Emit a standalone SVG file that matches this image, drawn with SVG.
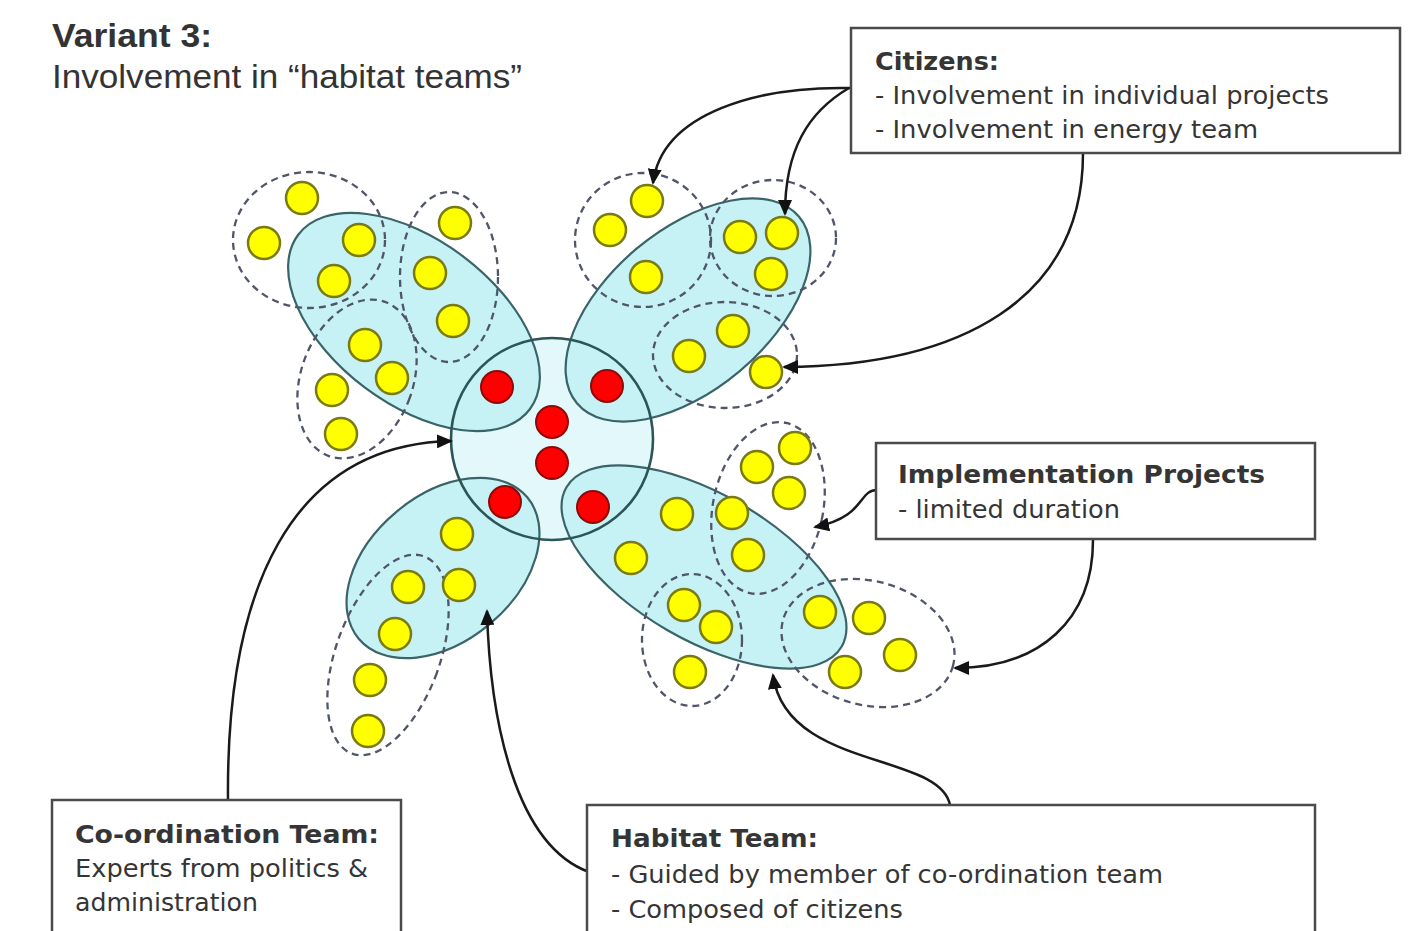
<svg xmlns="http://www.w3.org/2000/svg" width="1424" height="931" viewBox="0 0 1424 931">
<style>
.petal{fill:#c6f2f6;stroke:#3a6468;stroke-width:2.2}
.dash{fill:none;stroke:#50556a;stroke-width:2.3;stroke-dasharray:7 5}
.y{fill:#ffff00;stroke:#7a7a12;stroke-width:2.5}
.r{fill:#ff0000;stroke:#8c0a0a;stroke-width:2}
.box{fill:#ffffff;stroke:#4a4a4a;stroke-width:2.5}
.con{fill:none;stroke:#1a1a1a;stroke-width:2.5;marker-end:url(#ah)}
.t{font-family:"DejaVu Sans","Liberation Sans",sans-serif;font-size:25px;fill:#353535}
.b{font-weight:bold}
.title{font-family:"Liberation Sans",Arial,sans-serif;font-size:34px;fill:#333}
</style>
<defs>
<marker id="ah" markerWidth="16" markerHeight="14" refX="14" refY="7" orient="auto" markerUnits="userSpaceOnUse">
<path d="M0,0 L16,7 L0,14 z" fill="#111"/>
</marker>
</defs>
<rect width="1424" height="931" fill="#ffffff"/>

<g id="title">
<text class="title b" x="52" y="47" textLength="160" lengthAdjust="spacingAndGlyphs">Variant 3:</text>
<text class="title" x="52" y="88" textLength="470" lengthAdjust="spacingAndGlyphs">Involvement in “habitat teams”</text>
</g>

<g id="cluster">
<circle cx="552" cy="439" r="101" fill="#e2f8fa"/>
<g id="petals">
<ellipse class="petal" cx="414" cy="322" rx="145" ry="82" transform="rotate(37 414 322)"/>
<ellipse class="petal" cx="688" cy="310" rx="145" ry="80" transform="rotate(-40 688 310)"/>
<ellipse class="petal" cx="704" cy="567" rx="159" ry="73" transform="rotate(30 704 567)"/>
<ellipse class="petal" cx="443" cy="568" rx="110" ry="73" transform="rotate(-40 443 568)"/>
</g>
<circle id="core" cx="552" cy="439" r="101" fill="none" stroke="#2d5558" stroke-width="2.6"/>
<g id="groups">
<ellipse class="dash" cx="309" cy="240" rx="76" ry="68"/>
<ellipse class="dash" cx="449" cy="277" rx="49" ry="85"/>
<ellipse class="dash" cx="357" cy="379" rx="56" ry="82" transform="rotate(20 357 379)"/>
<ellipse class="dash" cx="643" cy="240" rx="68" ry="67"/>
<ellipse class="dash" cx="773" cy="238" rx="63" ry="58"/>
<ellipse class="dash" cx="725" cy="355" rx="72" ry="53"/>
<ellipse class="dash" cx="768" cy="508" rx="55" ry="87" transform="rotate(12 768 508)"/>
<ellipse class="dash" cx="692" cy="640" rx="50" ry="66"/>
<ellipse class="dash" cx="868" cy="643" rx="88" ry="62" transform="rotate(15 868 643)"/>
<ellipse class="dash" cx="388" cy="655" rx="52" ry="105" transform="rotate(20 388 655)"/>
</g>
<g id="red-members">
<circle class="r" cx="497" cy="387" r="16"/>
<circle class="r" cx="607" cy="386" r="16"/>
<circle class="r" cx="552" cy="422" r="16"/>
<circle class="r" cx="552" cy="463" r="16"/>
<circle class="r" cx="505" cy="502" r="16"/>
<circle class="r" cx="593" cy="507" r="16"/>
</g>
<g id="citizens">
<circle class="y" cx="302" cy="198" r="16"/>
<circle class="y" cx="264" cy="243" r="16"/>
<circle class="y" cx="359" cy="240" r="16"/>
<circle class="y" cx="334" cy="281" r="16"/>
<circle class="y" cx="455" cy="223" r="16"/>
<circle class="y" cx="430" cy="273" r="16"/>
<circle class="y" cx="453" cy="321" r="16"/>
<circle class="y" cx="365" cy="345" r="16"/>
<circle class="y" cx="392" cy="378" r="16"/>
<circle class="y" cx="332" cy="390" r="16"/>
<circle class="y" cx="341" cy="434" r="16"/>
<circle class="y" cx="647" cy="201" r="16"/>
<circle class="y" cx="610" cy="230" r="16"/>
<circle class="y" cx="646" cy="277" r="16"/>
<circle class="y" cx="740" cy="237" r="16"/>
<circle class="y" cx="782" cy="233" r="16"/>
<circle class="y" cx="771" cy="274" r="16"/>
<circle class="y" cx="733" cy="331" r="16"/>
<circle class="y" cx="689" cy="356" r="16"/>
<circle class="y" cx="766" cy="372" r="16"/>
<circle class="y" cx="757" cy="467" r="16"/>
<circle class="y" cx="795" cy="448" r="16"/>
<circle class="y" cx="789" cy="493" r="16"/>
<circle class="y" cx="677" cy="514" r="16"/>
<circle class="y" cx="732" cy="513" r="16"/>
<circle class="y" cx="748" cy="555" r="16"/>
<circle class="y" cx="631" cy="558" r="16"/>
<circle class="y" cx="684" cy="605" r="16"/>
<circle class="y" cx="716" cy="627" r="16"/>
<circle class="y" cx="690" cy="672" r="16"/>
<circle class="y" cx="820" cy="612" r="16"/>
<circle class="y" cx="869" cy="618" r="16"/>
<circle class="y" cx="900" cy="655" r="16"/>
<circle class="y" cx="845" cy="672" r="16"/>
<circle class="y" cx="457" cy="534" r="16"/>
<circle class="y" cx="408" cy="587" r="16"/>
<circle class="y" cx="459" cy="585" r="16"/>
<circle class="y" cx="395" cy="634" r="16"/>
<circle class="y" cx="370" cy="680" r="16"/>
<circle class="y" cx="368" cy="731" r="16"/>
</g>
</g>

<g id="connectors">
<path class="con" d="M851,88 C760,86 662,112 653,183"/>
<path class="con" d="M849,88 C808,112 785,150 785,214"/>
<path class="con" d="M1083,153 C1083,300 960,366 784,367"/>
<path class="con" d="M877,490 C858,490 866,517 815,527"/>
<path class="con" d="M1093,540 C1093,620 1040,668 955,668"/>
<path class="con" d="M228,800 C226,590 290,445 451,441"/>
<path class="con" d="M589,872 C515,845 490,720 487,611"/>
<path class="con" d="M950,805 C940,752 786,770 773,675"/>
</g>

<g id="box-citizens">
<rect class="box" x="851" y="28" width="549" height="125"/>
<text class="t b" x="875" y="70" textLength="124" lengthAdjust="spacingAndGlyphs">Citizens:</text>
<text class="t" x="875" y="104" textLength="454" lengthAdjust="spacingAndGlyphs">- Involvement in individual projects</text>
<text class="t" x="875" y="138" textLength="383" lengthAdjust="spacingAndGlyphs">- Involvement in energy team</text>
</g>

<g id="box-implementation">
<rect class="box" x="876" y="443" width="439" height="96"/>
<text class="t b" x="898" y="483" textLength="367" lengthAdjust="spacingAndGlyphs">Implementation Projects</text>
<text class="t" x="898" y="518" textLength="222" lengthAdjust="spacingAndGlyphs">- limited duration</text>
</g>

<g id="box-coordination">
<rect class="box" x="52" y="800" width="349" height="150"/>
<text class="t b" x="75" y="843" textLength="304" lengthAdjust="spacingAndGlyphs">Co-ordination Team:</text>
<text class="t" x="75" y="877" textLength="293" lengthAdjust="spacingAndGlyphs">Experts from politics &amp;</text>
<text class="t" x="75" y="911" textLength="183" lengthAdjust="spacingAndGlyphs">administration</text>
</g>

<g id="box-habitat">
<rect class="box" x="587" y="805" width="728" height="150"/>
<text class="t b" x="611" y="847" textLength="207" lengthAdjust="spacingAndGlyphs">Habitat Team:</text>
<text class="t" x="611" y="883" textLength="552" lengthAdjust="spacingAndGlyphs">- Guided by member of co-ordination team</text>
<text class="t" x="611" y="918" textLength="292" lengthAdjust="spacingAndGlyphs">- Composed of citizens</text>
</g>
</svg>
